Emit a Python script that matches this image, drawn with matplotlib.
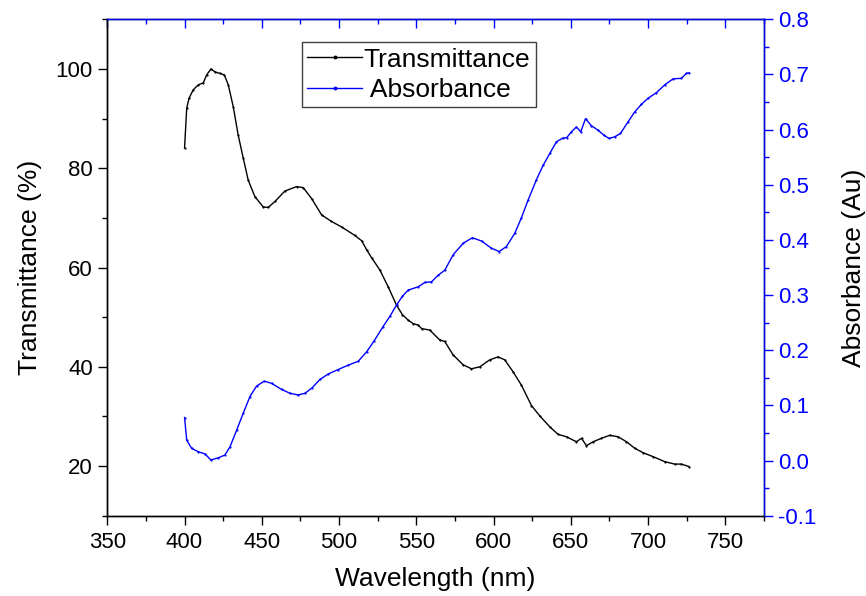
import matplotlib
matplotlib.use("Agg")
import matplotlib.pyplot as plt
from matplotlib.ticker import MultipleLocator, FormatStrFormatter

plt.rcParams['font.family'] = ['Liberation Sans', 'DejaVu Sans']
plt.rcParams['axes.unicode_minus'] = False

# transmittance (%)
wl_t = [400, 401.4, 402.9, 405.6, 408.9, 412.1, 414.3, 417.1, 419.7, 422.9,
        425.7, 428.3, 431.5, 434.7, 438.0, 441.2, 445.5, 450.9, 454.1, 458.5,
        464.9, 472.5, 476.8, 482.2, 488.7, 495, 502, 510, 514.6, 518,
        521, 526.4, 531.8, 537.2, 541, 544.7, 548, 551.2, 553.4, 558.7,
        565.2, 568.4, 573.8, 580.3, 585.7, 591.1, 597.5, 602.9, 607.2, 612.6,
        618.0, 624.5, 629.9, 636.4, 641.7, 647.2, 653.6, 656.9, 660.1, 664.4,
        669.8, 675.2, 680.6, 686.0, 691.3, 696.7, 703.2, 710.7, 717.2, 721.5,
        726.5]
trans = [84.1, 92.1, 94.1, 95.8, 96.8, 97.2, 98.8, 100.0, 99.4, 99.1,
         98.8, 96.8, 92.4, 86.7, 82.0, 77.6, 74.3, 72.2, 72.1, 73.3,
         75.4, 76.3, 76.1, 73.9, 70.6, 69.3, 68.1, 66.5, 65.4, 63.5,
         62.0, 59.5, 56.1, 52.4, 50.5, 49.4, 48.7, 48.4, 47.7, 47.4,
         45.4, 45.1, 42.4, 40.4, 39.6, 40.0, 41.4, 42.0, 41.4, 39.0,
         36.3, 32.2, 30.1, 27.9, 26.4, 25.9, 24.9, 25.6, 24.1, 24.9,
         25.6, 26.2, 25.9, 24.9, 23.6, 22.7, 21.9, 20.9, 20.4, 20.4,
         19.9]

# absorbance (Au)
wl_a = [400, 401.4, 404.6, 408.9, 413.2, 417.1, 421.8, 426.1, 429.4, 433.7,
        438.0, 442.3, 446.6, 451.6, 456.3, 462.8, 468.2, 473.5, 477.9, 482.2,
        487.6, 493.0, 499.4, 505.9, 512.4, 517.8, 522.7, 528.5, 533, 537.2,
        541, 544.7, 551.2, 555.5, 559.8, 564.1, 568.4, 573.8, 580.3, 586.3,
        592.2, 598.6, 603.6, 608.3, 613.7, 618.0, 622.3, 627.7, 632, 636.4,
        640.7, 645.0, 647.2, 650.4, 653.6, 656.4, 659.5, 663.3, 667.6, 671.3,
        674.7, 678.4, 682.1, 687.0, 691.3, 695.7, 700.0, 705.4, 710.7, 716.1,
        721.5, 724.8, 726.5]
absorb = [0.078, 0.037, 0.022, 0.016, 0.012, 0.001, 0.005, 0.010, 0.025, 0.055,
          0.086, 0.116, 0.135, 0.144, 0.140, 0.129, 0.122, 0.119, 0.122, 0.131,
          0.147, 0.157, 0.165, 0.173, 0.180, 0.197, 0.217, 0.243, 0.262, 0.282,
          0.298, 0.309, 0.315, 0.323, 0.324, 0.336, 0.345, 0.373, 0.394, 0.404,
          0.398, 0.385, 0.379, 0.388, 0.412, 0.440, 0.472, 0.509, 0.535, 0.557,
          0.578, 0.585, 0.585, 0.596, 0.605, 0.596, 0.620, 0.607, 0.599, 0.590,
          0.584, 0.587, 0.593, 0.614, 0.632, 0.646, 0.657, 0.667, 0.681, 0.692,
          0.693, 0.702, 0.703]

fig = plt.figure(figsize=(8.66, 5.96), dpi=100)
ax = fig.add_axes([0.1239, 0.1347, 0.7583, 0.8329])
ax2 = ax.twinx()

l1, = ax.plot(wl_t, trans, color='black', lw=1.0, marker='o', ms=0.6,
              label='Transmittance')
l2, = ax2.plot(wl_a, absorb, color='blue', lw=1.0, marker='o', ms=0.6,
               label='Absorbance')

ax.set_xlim(350, 775)
ax.set_ylim(10, 110)
ax2.set_ylim(-0.1, 0.8)

ax.xaxis.set_major_locator(MultipleLocator(50))
ax.xaxis.set_minor_locator(MultipleLocator(25))
ax.yaxis.set_major_locator(MultipleLocator(20))
ax.yaxis.set_minor_locator(MultipleLocator(10))
ax2.yaxis.set_major_locator(MultipleLocator(0.1))
ax2.yaxis.set_minor_locator(MultipleLocator(0.05))
ax2.yaxis.set_major_formatter(FormatStrFormatter('%.1f'))

ax.tick_params(which='both', direction='out', labelsize=16, width=1.0)
ax.tick_params(which='major', length=6.8)
ax.tick_params(which='minor', length=3.6)
ax.tick_params(axis='x', pad=5)
ax2.tick_params(which='both', direction='out', colors='blue', labelsize=16, width=1.0)
ax2.tick_params(which='major', length=6.8)
ax2.tick_params(which='minor', length=3.6)

# top axis: blue, ticks pointing in
top = ax.secondary_xaxis('top')
top.xaxis.set_major_locator(MultipleLocator(50))
top.xaxis.set_minor_locator(MultipleLocator(25))
top.tick_params(which='both', direction='in', colors='blue', labeltop=False, width=1.0)
top.tick_params(which='major', length=6.8)
top.tick_params(which='minor', length=3.6)
top.spines['top'].set_color('blue')

for s in ax.spines.values():
    s.set_linewidth(1.0)
for s in ax2.spines.values():
    s.set_linewidth(1.0)
ax2.spines['right'].set_color('blue')
ax2.spines['top'].set_color('blue')

ax.set_xlabel('Wavelength (nm)', fontsize=19, labelpad=10)
ax.set_ylabel('Transmittance (%)', fontsize=19, labelpad=10)
ax2.set_ylabel('Absorbance (Au)', fontsize=19, labelpad=18)

leg = ax.legend([l1, l2], ['Transmittance', ' Absorbance'], loc='upper left',
                bbox_to_anchor=(301.7 / 866, 1 - 42.3 / 596),
                bbox_transform=fig.transFigure, fontsize=19, fancybox=False,
                edgecolor='#404040', framealpha=1, borderpad=0.2,
                handlelength=2.1, handletextpad=0.05, labelspacing=0.25,
                borderaxespad=0, numpoints=1, markerscale=3)
leg.get_frame().set_linewidth(1.0)
leg.set_zorder(10)

fig.savefig('out.png', dpi=100)
